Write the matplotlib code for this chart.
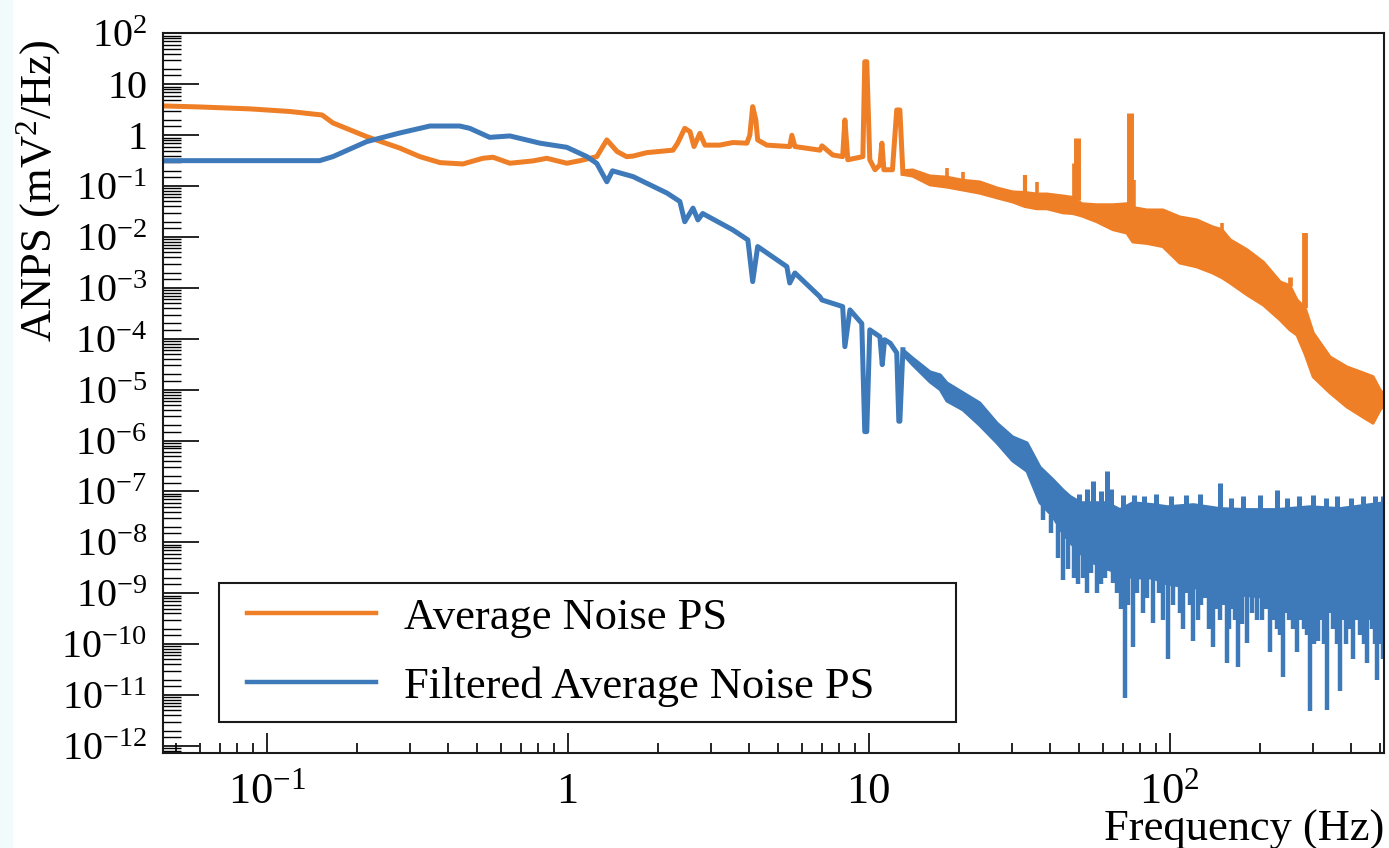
import numpy as np
import matplotlib.pyplot as plt
from matplotlib.ticker import FixedLocator, LogLocator, NullFormatter
from matplotlib.patches import Rectangle

plt.rcParams['font.family'] = 'Liberation Serif'
plt.rcParams['mathtext.fontset'] = 'custom'
plt.rcParams['mathtext.rm'] = 'Liberation Serif'
plt.rcParams['mathtext.it'] = 'Liberation Serif:italic'
plt.rcParams['mathtext.bf'] = 'Liberation Serif:bold'

ORANGE = '#ee7f27'
BLUE = '#3e79b9'

# ---- Average noise PS, low-frequency part (Hz, mV^2/Hz)
avg_f = [0.0453, 0.060, 0.088, 0.119, 0.153, 0.166, 0.215, 0.277, 0.323, 0.377,
         0.449, 0.523, 0.565, 0.643, 0.766, 0.853, 0.994, 1.10, 1.25, 1.35,
         1.46, 1.57, 1.65, 1.83, 2.24, 2.32, 2.45, 2.55, 2.63, 2.75,
         2.86, 3.20, 3.54, 3.94, 4.03, 4.12, 4.22, 4.28, 4.59, 5.47,
         5.56, 5.69, 6.89, 7.0, 7.6, 8.2, 8.34, 8.53, 9.57, 9.71,
         9.86, 10.09, 10.5, 10.9, 11.07, 11.24, 12.0, 12.4, 12.7, 13.0]
avg_v = [3.77, 3.6, 3.3, 2.94, 2.5, 1.75, 0.94, 0.56, 0.38, 0.29,
         0.273, 0.353, 0.37, 0.282, 0.313, 0.353, 0.282, 0.317, 0.38, 0.81,
         0.48, 0.38, 0.39, 0.455, 0.51, 0.70, 1.37, 1.18, 0.60, 1.09,
         0.64, 0.64, 0.72, 0.70, 1.0, 3.65, 2.0, 0.81, 0.64, 0.60,
         1.0, 0.60, 0.51, 0.62, 0.41, 0.38, 2.0, 0.33, 0.38, 27.9,
         27.9, 0.33, 0.21, 0.26, 0.70, 0.21, 0.21, 3.14, 3.14, 0.18]

# high-frequency part: noise band (upper / lower edge) and narrow lines
avg_band_f = [13.0, 14.0, 16.0, 18.2, 20.6, 23.4, 26.7, 30.1, 33.0, 36.2,
              39.1, 44.2, 47.7, 51.1, 57.3, 64.8, 72.1, 75.5, 84.1, 95.0,
              108, 123, 139, 149, 159, 181, 205, 233, 251, 265,
              282, 300, 341, 388, 439, 474, 500, 516]
avg_band_hi = [0.2, 0.208, 0.158, 0.15, 0.13, 0.121, 0.092, 0.077, 0.075, 0.07,
               0.07, 0.064, 0.06, 0.045, 0.043, 0.043, 0.045, 0.038, 0.034, 0.034,
               0.0248, 0.0217, 0.0158, 0.014, 0.0088, 0.0056, 0.0032, 0.00131, 0.0011, 5.8e-4,
               4e-4, 1.3e-4, 4.4e-5, 2.8e-5, 2.14e-5, 1.8e-5, 9.9e-6, 8e-6]
avg_band_lo = [0.17, 0.158, 0.106, 0.096, 0.084, 0.073, 0.059, 0.049, 0.040, 0.036,
               0.036, 0.030, 0.029, 0.026, 0.020, 0.014, 0.012, 0.008, 0.0075, 0.0065,
               0.0031, 0.0026, 0.00197, 0.0016, 0.00125, 7.3e-4, 4.6e-4, 2.35e-4, 1.5e-4, 1.19e-4,
               5e-5, 1.79e-5, 8.7e-6, 4.6e-6, 2.9e-6, 2.2e-6, 4.0e-6, 5e-6]
# narrow lines on top of the band, and their widths in points
avg_line_f = [18.2, 20.6, 33.0, 36.2, 48.2, 49.3, 73.9, 75.6, 149, 251, 282]
avg_line_v = [0.228, 0.19, 0.166, 0.121, 0.286, 0.87, 2.78, 0.132, 0.0189, 0.00164, 0.0119]
avg_line_w = [2.6, 2.6, 3.0, 2.6, 3.4, 5.0, 5.0, 4.0, 2.6, 3.4, 4.2]

# ---- Filtered average noise PS, low-frequency part
flt_f = [0.0453, 0.150, 0.166, 0.215, 0.277, 0.349, 0.438, 0.473, 0.551, 0.643,
         0.809, 0.994, 1.16, 1.25, 1.35, 1.41, 1.65, 2.14, 2.36, 2.45,
         2.61, 2.71, 2.81, 3.54, 3.97, 4.12, 4.28, 5.35, 5.47, 5.69,
         6.89, 7.0, 8.2, 8.34, 8.67, 9.49, 9.71, 9.86, 10.09, 10.9,
         11.1, 11.3, 11.8, 12.4, 12.6, 12.7, 13.0]
flt_v = [0.317, 0.317, 0.38, 0.75, 1.11, 1.52, 1.52, 1.37, 0.91, 0.97,
         0.70, 0.58, 0.38, 0.28, 0.122, 0.20, 0.154, 0.073, 0.050, 0.020,
         0.037, 0.0217, 0.029, 0.0138, 0.0088, 0.00133, 0.0065, 0.00262, 0.00125, 0.00197,
         6.7e-4, 5.8e-4, 4.3e-4, 7.0e-5, 3.7e-4, 2.0e-4, 1.5e-6, 1.5e-6, 1.5e-4, 1.1e-4,
         3.1e-5, 9.6e-5, 8.2e-5, 5.3e-5, 2.4e-6, 2.4e-6, 6.1e-5]

flt_band_f = [13.0, 14.0, 16.0, 17.3, 18.2, 20.6, 23.4, 26.7, 30.1, 33.6,
              37.1, 41.0, 44.2, 46.7, 50.7, 55.6, 61.8, 68.4, 75.5, 87.9,
              98.6, 120, 147, 181, 227, 293, 368, 453, 516]
flt_band_hi = [6.1e-5, 4.2e-5, 2.24e-5, 1.95e-5, 1.36e-5, 8.7e-6, 5.5e-6, 2.2e-6, 1.18e-6, 9.0e-7,
               3.0e-7, 1.7e-7, 1.07e-7, 8e-8, 6e-8, 6e-8, 6e-8, 4.4e-8, 6e-8, 5.5e-8,
               5e-8, 5.5e-8, 4.6e-8, 4.4e-8, 4.4e-8, 5e-8, 4.6e-8, 5.4e-8, 6e-8]
flt_band_lo = [5e-5, 3.1e-5, 1.42e-5, 1e-5, 6e-6, 4.0e-6, 2e-6, 9.0e-7, 4e-7, 2.5e-7,
               6e-8, 3.2e-8, 1.5e-8, 1e-8, 6e-9, 4e-9, 3e-9, 2.5e-9, 2e-9, 2e-9,
               1.5e-9, 1.3e-9, 1e-9, 9e-10, 8e-10, 8e-10, 7e-10, 7e-10, 7e-10]
# downward noise excursions below the band
flt_dip_f = [37.9, 40.5, 42.5, 44.2, 46.0, 48, 49.5, 51.5, 53.1, 55,
             57.3, 59, 61.0, 63, 64.8, 67, 69, 71.1, 73, 75.5,
             78, 81.5, 84, 87.9, 92, 95, 98.6, 103, 108, 111,
             114, 117, 120, 124, 127, 131, 135, 139, 143, 147,
             151, 155, 158, 162, 165, 169, 174, 181, 188, 195,
             203, 209, 215, 220, 227, 232, 238, 244, 250, 257,
             265, 272, 280, 287, 293, 302, 311, 318, 326, 333,
             342, 350, 359, 368, 376, 385, 396, 407, 418, 430,
             442, 453, 462, 470, 480, 489, 497, 505, 512]
flt_dip_v = [2.8e-8, 1.5e-8, 5e-9, 1.8e-9, 3e-9, 2e-9, 1.5e-9, 2e-9, 1.0e-9, 2.5e-9,
             1.0e-9, 1.5e-9, 2e-9, 3e-9, 1.6e-9, 1e-9, 5e-10, 8.9e-12, 6e-10, 8.9e-11,
             1e-9, 4.1e-10, 8e-10, 2.6e-10, 1e-9, 3e-10, 5.2e-11, 6e-10, 4e-10, 2e-10,
             1e-9, 6e-10, 1.15e-10, 3e-10, 6e-10, 8e-10, 2e-10, 8.9e-11, 5e-10, 3e-10,
             6e-10, 4.3e-11, 2e-10, 5e-10, 3e-10, 3.5e-11, 2.5e-10, 1.07e-10, 4e-10, 3e-10,
             3e-10, 5e-10, 7.1e-11, 3e-10, 2e-10, 1.5e-10, 2.3e-11, 4e-10, 3e-10, 2e-10,
             7.1e-11, 3e-10, 2e-10, 1.5e-10, 4.8e-12, 1e-10, 1.15e-10, 3e-10, 1e-10, 5.0e-12,
             4e-10, 2e-10, 1e-10, 1.2e-11, 3e-10, 1e-10, 2e-10, 5.2e-11, 3e-10, 1.5e-10,
             1e-10, 4.3e-11, 3e-10, 2e-10, 1e-10, 2.0e-11, 3e-10, 1e-10, 5e-11]
# upward excursions above the band
flt_peak_f = [50.0, 53, 55.6, 59, 61.8, 64, 70, 76, 82, 90,
              101, 113, 126, 147, 160, 175, 200, 227, 245, 270,
              300, 330, 360, 400, 440, 480, 510]
flt_peak_v = [9e-8, 1.1e-7, 1.6e-7, 1.0e-7, 2.5e-7, 1.1e-7, 8.5e-8, 8.5e-8, 8e-8, 9e-8,
              8e-8, 8.5e-8, 9e-8, 1.5e-7, 7.5e-8, 8e-8, 8.5e-8, 1.05e-7, 7.5e-8, 8e-8,
              8.5e-8, 7.5e-8, 8e-8, 7.5e-8, 8e-8, 8e-8, 8e-8]

y_major = 10.0 ** np.arange(-12, 3)
y_labels = ['$10^{%d}$' % e if e not in (0, 1) else ('1' if e == 0 else '10')
            for e in range(-12, 3)]
x_major = [0.1, 1, 10, 100]
x_labels = ['$10^{-1}$', '1', '10', '$10^{2}$']


def log_interp(f, fp, vp):
    return 10 ** np.interp(np.log10(f), np.log10(fp), np.log10(vp))


def draw_trace(ax, f, v, bf, bhi, blo, color, lw, label):
    ax.plot(f, v, color=color, lw=lw, label=label, solid_joinstyle='round')
    ax.fill_between(bf, blo, bhi, color=color, lw=0)
    ax.plot(bf, bhi, color=color, lw=2.2)
    ax.plot(bf, blo, color=color, lw=2.2)


fig = plt.figure(figsize=(13.89, 8.48), dpi=100)
fig.patches.append(Rectangle((0, 0), 12 / 1389, 1, transform=fig.transFigure,
                             color='#f2fbfb', zorder=-5))
ax = fig.add_axes([0.1174, 0.1120, 0.8791, 0.8485])
ax.set_xscale('log')
ax.set_yscale('log')

draw_trace(ax, avg_f, avg_v, avg_band_f, avg_band_hi, avg_band_lo, ORANGE, 3.6,
           'Average Noise PS')
ax.vlines(avg_line_f, log_interp(avg_line_f, avg_band_f, avg_band_hi), avg_line_v,
          color=ORANGE, lw=avg_line_w)

draw_trace(ax, flt_f, flt_v, flt_band_f, flt_band_hi, flt_band_lo, BLUE, 3.6,
           'Filtered Average Noise PS')
ax.vlines(flt_dip_f, flt_dip_v, log_interp(flt_dip_f, flt_band_f, flt_band_lo),
          color=BLUE, lw=3.2)
ax.vlines(flt_peak_f, log_interp(flt_peak_f, flt_band_f, flt_band_hi), flt_peak_v,
          color=BLUE, lw=3.6)

ax.set_xlim(0.0453, 516)
ax.set_ylim(10 ** -12.14, 100)

ax.xaxis.set_major_locator(FixedLocator(x_major))
ax.set_xticklabels(x_labels, fontsize=32)
ax.xaxis.set_minor_locator(LogLocator(base=10, subs=np.arange(2, 10), numticks=50))
ax.xaxis.set_minor_formatter(NullFormatter())
for lab in ax.get_xticklabels():
    lab.set_verticalalignment('baseline')

ax.yaxis.set_major_locator(FixedLocator(y_major))
ax.set_yticklabels(y_labels, fontsize=29)
ax.yaxis.set_minor_locator(LogLocator(base=10, subs=[1.5, 2, 3, 4, 5, 6, 7, 8, 9], numticks=100))
ax.yaxis.set_minor_formatter(NullFormatter())

ax.tick_params(axis='x', which='major', direction='in', length=14.5, width=1.2, pad=36,
               top=False)
ax.tick_params(axis='x', which='minor', direction='in', length=7.2, width=1.2, top=False)
ax.tick_params(axis='y', which='major', direction='in', length=26, width=1.2, pad=11.5,
               right=False)
ax.tick_params(axis='y', which='minor', direction='in', length=13, width=1.0, right=False)
for sp in ax.spines.values():
    sp.set_linewidth(1.5)
    sp.set_color('#1a1a1a')

ax.set_xlabel('Frequency (Hz)', fontsize=32, loc='right')
ax.xaxis.set_label_coords(1.0, -0.079)
ax.set_ylabel('ANPS (mV$^{2}$/Hz)', fontsize=32, loc='top')
ax.yaxis.set_label_coords(-0.082, 0.991)

# legend: frame drawn as a box in axes coordinates, entries placed inside it
ax.add_patch(Rectangle((0.0459, 0.0431), 0.6036, 0.1932, transform=ax.transAxes,
                       facecolor='white', edgecolor='#1a1a1a', lw=1.5, zorder=4))
leg = ax.legend(loc='center left', bbox_to_anchor=(0.0688, 0.1404), borderaxespad=0,
                borderpad=0, fontsize=32, frameon=False, handlelength=2.9,
                handletextpad=0.62, labelspacing=0.64)
leg.set_zorder(5)
for line in leg.get_lines():
    line.set_linewidth(3.2)

fig.savefig('out.png', dpi=100)
